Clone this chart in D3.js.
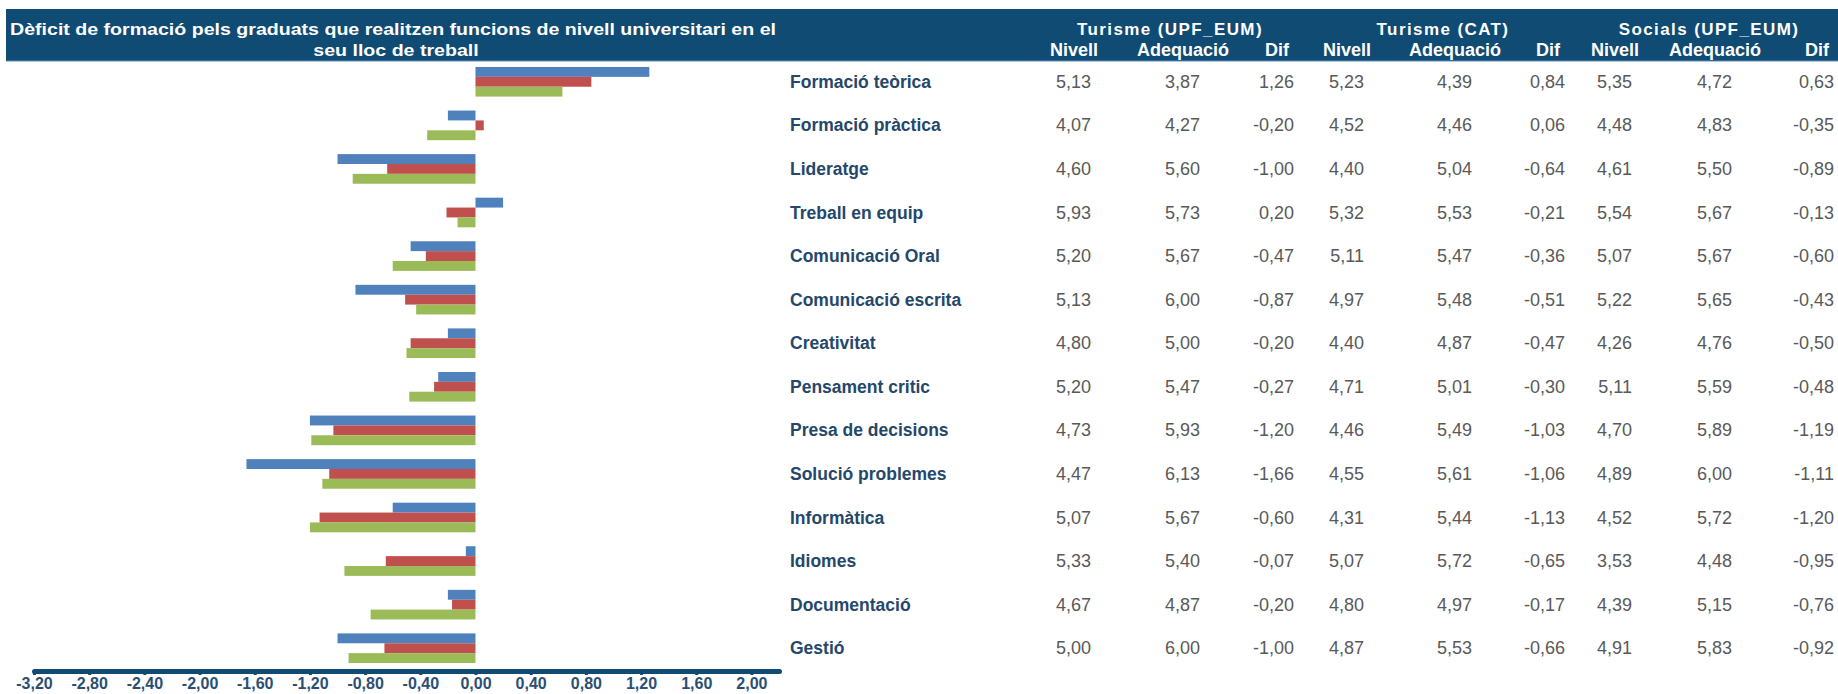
<!DOCTYPE html>
<html>
<head>
<meta charset="utf-8">
<script src="https://cdn.jsdelivr.net/npm/d3@7"></script>
<style>
  body { margin: 0; background: #ffffff; }
  svg { display: block; }
  text { font-family: "Liberation Sans", Arial, Helvetica, sans-serif; }
</style>
</head>
<body>
<svg id="chart" width="1838" height="694"></svg>
<script>
// ---- data ----------------------------------------------------------------
const categories = [
  "Formació teòrica", "Formació pràctica", "Lideratge", "Treball en equip",
  "Comunicació Oral", "Comunicació escrita", "Creativitat", "Pensament critic",
  "Presa de decisions", "Solució problemes", "Informàtica", "Idiomes",
  "Documentació", "Gestió"
];

const turUpfNivell = [5.13, 4.07, 4.60, 5.93, 5.20, 5.13, 4.80, 5.20, 4.73, 4.47, 5.07, 5.33, 4.67, 5.00];
const turUpfAdeq   = [3.87, 4.27, 5.60, 5.73, 5.67, 6.00, 5.00, 5.47, 5.93, 6.13, 5.67, 5.40, 4.87, 6.00];
const turUpfDif    = [1.26, -0.20, -1.00, 0.20, -0.47, -0.87, -0.20, -0.27, -1.20, -1.66, -0.60, -0.07, -0.20, -1.00];

const turCatNivell = [5.23, 4.52, 4.40, 5.32, 5.11, 4.97, 4.40, 4.71, 4.46, 4.55, 4.31, 5.07, 4.80, 4.87];
const turCatAdeq   = [4.39, 4.46, 5.04, 5.53, 5.47, 5.48, 4.87, 5.01, 5.49, 5.61, 5.44, 5.72, 4.97, 5.53];
const turCatDif    = [0.84, 0.06, -0.64, -0.21, -0.36, -0.51, -0.47, -0.30, -1.03, -1.06, -1.13, -0.65, -0.17, -0.66];

const socUpfNivell = [5.35, 4.48, 4.61, 5.54, 5.07, 5.22, 4.26, 5.11, 4.70, 4.89, 4.52, 3.53, 4.39, 4.91];
const socUpfAdeq   = [4.72, 4.83, 5.50, 5.67, 5.67, 5.65, 4.76, 5.59, 5.89, 6.00, 5.72, 4.48, 5.15, 5.83];
const socUpfDif    = [0.63, -0.35, -0.89, -0.13, -0.60, -0.43, -0.50, -0.48, -1.19, -1.11, -1.20, -0.95, -0.76, -0.92];

const groupNames  = ["Turisme (UPF_EUM)", "Turisme (CAT)", "Socials (UPF_EUM)"];
const subHeaders  = ["Nivell", "Adequació", "Dif"];
const xTickValues = [-3.2, -2.8, -2.4, -2.0, -1.6, -1.2, -0.8, -0.4, 0.0, 0.4, 0.8, 1.2, 1.6, 2.0];
const xDomain     = [-3.2, 2.2];

const titleLines = [
  "Dèficit de formació pels graduats que realitzen funcions de nivell universitari en el",
  "seu lloc de treball"
];

// ---- look & layout ---------------------------------------------------------
const W = 1838, H = 694;
const navy = "#0f4b73";
const seriesColors = ["#4f81bd", "#c0504d", "#9bbb59"];
const labelColor = "#24476b";
const valueColor = "#595959";
const axisLabelColor = "#2b4f73";

const plot = { left: 34, right: 779, top: 60, bottom: 670, axisY: 671 };
const labelX = 790;
// column centres of the table, left to right
const colX = [1074, 1183, 1277, 1347, 1455, 1548, 1615, 1715, 1817];
const groupX = [1170, 1443, 1709];

const groups = [
  { name: groupNames[0], cols: [turUpfNivell, turUpfAdeq, turUpfDif] },
  { name: groupNames[1], cols: [turCatNivell, turCatAdeq, turCatDif] },
  { name: groupNames[2], cols: [socUpfNivell, socUpfAdeq, socUpfDif] }
];
const barSeries = [turUpfDif, turCatDif, socUpfDif];

const fmt = v => v.toFixed(2).replace(".", ",");

// ---- scales ----------------------------------------------------------------
const svg = d3.select("#chart");

const x = d3.scaleLinear().domain(xDomain).range([plot.left, plot.right]);
const y = d3.scaleBand().domain(categories).range([plot.top, plot.bottom])
  .paddingInner(0.32).paddingOuter(0.16);
const ySub = d3.scaleBand().domain(d3.range(barSeries.length)).range([0, y.bandwidth()]);

// ---- header band -----------------------------------------------------------
svg.append("rect").attr("x", 6).attr("y", 9).attr("width", W - 6).attr("height", 52)
  .attr("fill", navy);
svg.append("line").attr("x1", 6).attr("x2", W).attr("y1", 61).attr("y2", 61)
  .attr("stroke", "#5b8fbf").attr("stroke-width", 1.2);

const t1 = svg.append("text").attr("x", 393).attr("y", 35)
  .attr("text-anchor", "middle").attr("fill", "#fff")
  .attr("font-weight", "bold").attr("font-size", 17).text(titleLines[0]);
const natural1 = t1.node().getComputedTextLength();
const squeeze = 766 / natural1;
t1.attr("textLength", 766).attr("lengthAdjust", "spacingAndGlyphs");
const t2 = svg.append("text").attr("x", 396).attr("y", 56)
  .attr("text-anchor", "middle").attr("fill", "#fff")
  .attr("font-weight", "bold").attr("font-size", 17).text(titleLines[1]);
t2.attr("textLength", t2.node().getComputedTextLength() * squeeze)
  .attr("lengthAdjust", "spacingAndGlyphs");

svg.selectAll("text.group-head").data(groups).join("text")
  .attr("class", "group-head")
  .attr("x", (d, i) => groupX[i]).attr("y", 35)
  .attr("text-anchor", "middle").attr("fill", "#fff")
  .attr("font-weight", "bold").attr("font-size", 17)
  .attr("letter-spacing", 1.4)
  .text(d => d.name);

const subCells = groups.flatMap((g, gi) => subHeaders.map((s, si) => ({ s, c: gi * 3 + si })));
svg.selectAll("text.sub-head").data(subCells).join("text")
  .attr("class", "sub-head")
  .attr("x", d => colX[d.c]).attr("y", 56)
  .attr("text-anchor", "middle").attr("fill", "#fff")
  .attr("font-weight", "bold").attr("font-size", 18)
  .text(d => d.s);

// ---- bars ------------------------------------------------------------------
const rows = svg.append("g").selectAll("g").data(categories).join("g")
  .attr("transform", d => `translate(0,${y(d)})`);

rows.selectAll("rect")
  .data((d, i) => barSeries.map((s, k) => ({ k, v: s[i] })))
  .join("rect")
  .attr("x", d => x(Math.min(0, d.v)))
  .attr("y", d => ySub(d.k))
  .attr("width", d => Math.abs(x(d.v) - x(0)))
  .attr("height", ySub.bandwidth())
  .attr("fill", d => seriesColors[d.k]);

// ---- x axis ----------------------------------------------------------------
const axis = svg.append("g").attr("transform", `translate(0,${plot.axisY})`)
  .call(d3.axisBottom(x).tickValues(xTickValues).tickSize(4).tickSizeOuter(0)
    .tickPadding(3).tickFormat(fmt));
axis.select(".domain").attr("stroke", navy).attr("stroke-width", 5)
  .attr("stroke-linecap", "round");
axis.selectAll(".tick line").attr("stroke", navy).attr("stroke-width", 3);
axis.selectAll(".tick text").attr("fill", axisLabelColor)
  .attr("font-weight", "bold").attr("font-size", 16)
  .attr("font-family", "'Liberation Sans', Arial, sans-serif");

// ---- table -----------------------------------------------------------------
const rowMid = c => y(c) + y.bandwidth() / 2;

svg.selectAll("text.cat").data(categories).join("text")
  .attr("class", "cat")
  .attr("x", labelX).attr("y", d => rowMid(d) + 6)
  .attr("fill", labelColor).attr("font-weight", "bold").attr("font-size", 17.5)
  .text(d => d);

const cells = [];
categories.forEach((c, i) => {
  groups.forEach((g, gi) => {
    g.cols.forEach((col, ci) => cells.push({ c, col: gi * 3 + ci, v: col[i] }));
  });
});
svg.selectAll("text.val").data(cells).join("text")
  .attr("class", "val")
  .attr("x", d => colX[d.col] + 17).attr("y", d => rowMid(d.c) + 6)
  .attr("text-anchor", "end").attr("fill", valueColor).attr("font-size", 18)
  .text(d => fmt(d.v));
</script>
</body>
</html>
